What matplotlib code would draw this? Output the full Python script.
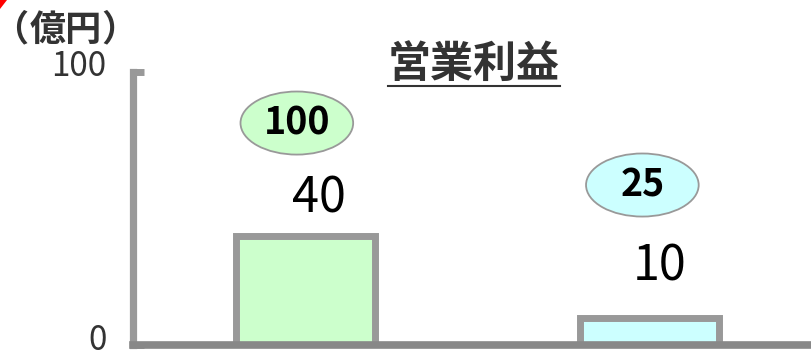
import matplotlib
matplotlib.use("Agg")
import matplotlib.pyplot as plt
from matplotlib.patches import Ellipse, Polygon
from matplotlib.lines import Line2D
from matplotlib.transforms import ScaledTranslation

plt.rcParams['font.family'] = ['Noto Sans CJK JP', 'DejaVu Sans']

categories = ["A", "B"]
values = [40, 10]
prev_values = [100, 25]
bar_colors = ["#CCFFCC", "#CCFFFF"]
title = "営業利益"
unit_parts = ["（", "億円", "）"]
yticks = [0, 100]

W, H = 811, 351
fig = plt.figure(figsize=(W / 100, H / 100), dpi=100)
ax = fig.add_axes([133 / W, (H - 345) / H, 1 - 133 / W, (345 - 72) / H])

x = list(range(len(categories)))
ax.bar(x, values, width=0.404, color=bar_colors, edgecolor="#999999", linewidth=5, zorder=2)
ax.set_xlim(-0.503, 1.471)
ax.set_ylim(0, 100)

for s in ["top", "right"]:
    ax.spines[s].set_visible(False)
ax.spines["left"].set_color("#999999")
ax.spines["left"].set_linewidth(5.2)
ax.spines["bottom"].set_color("#888888")
ax.spines["bottom"].set_linewidth(5.5)
ax.spines["bottom"].set_zorder(3)

ax.set_xticks([])
ax.set_yticks(yticks)
ax.set_yticklabels([str(t) for t in yticks], fontsize=24, color="#333333")
ax.tick_params(axis="y", direction="in", length=8, width=5, color="#999999", pad=19)
shift = ScaledTranslation(0, 9 / 100, fig.dpi_scale_trans)
for lbl in ax.get_yticklabels():
    lbl.set_transform(lbl.get_transform() + shift)

# value labels
label_offsets = [(0.038, 53.5), (1.029 - 1, 28.6)]
for i, v in enumerate(values):
    dx, yy = label_offsets[i]
    ax.text(x[i] + dx, yy, str(v), ha="center", va="center", fontsize=35, color="black")

# previous-value ellipses
ell_pos = [(-0.026, 81.3), (0.980 - 1, 58.6)]
for i, pv in enumerate(prev_values):
    dx, yy = ell_pos[i]
    e = Ellipse((x[i] + dx, yy), width=0.328, height=23.1, facecolor=bar_colors[i],
                edgecolor="#999999", linewidth=1.3, clip_on=False, zorder=4)
    ax.add_patch(e)
    ax.text(x[i] + dx, yy, str(pv), ha="center", va="center", fontsize=27,
            fontweight="bold", color="black", zorder=5)

# title with underline
fig.text(474 / W, 1 - 64 / H, title, ha="center", va="center", fontsize=31,
         fontweight="bold", color="#333333")
fig.add_artist(Line2D([388 / W, 560 / W], [1 - 86 / H, 1 - 86 / H], color="#333333",
                      linewidth=1.5, transform=fig.transFigure))

# unit label (pieces spaced like the reference)
unit_x = [10, 66, 119]
for px, part in zip(unit_x, unit_parts):
    fig.text(px / W, 1 - 30 / H, part, ha="center", va="center", fontsize=26,
             fontweight="bold", color="#333333")

# red corner mark
fig.add_artist(Polygon([[0, 1], [7 / W, 1], [0, 1 - 9 / H]], closed=True,
                       facecolor="red", edgecolor="none", transform=fig.transFigure))

fig.savefig("out.png", dpi=100)
